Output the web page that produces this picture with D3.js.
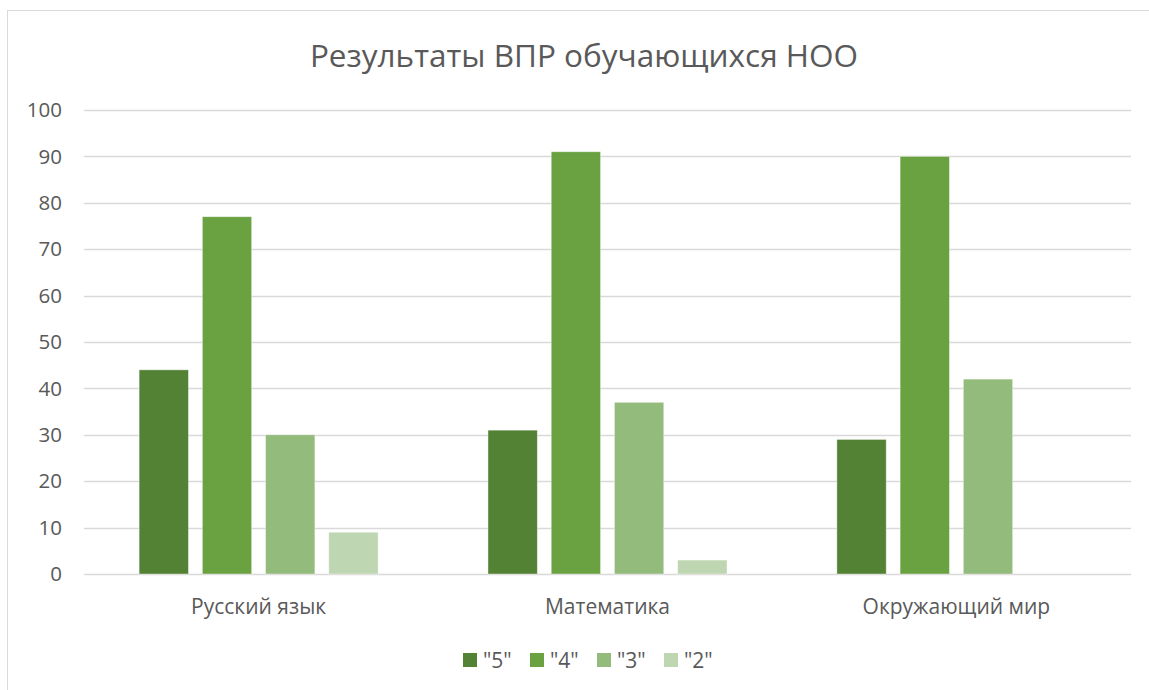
<!DOCTYPE html>
<html>
<head>
<meta charset="utf-8">
<script src="https://cdn.jsdelivr.net/npm/d3@7"></script>
<style>
  body { margin: 0; background: #fff; }
  text { font-family: "Open Sans", "Noto Sans", sans-serif; fill: #595959; }
</style>
</head>
<body>
<svg id="chart" width="1149" height="690"></svg>
<script>
// data
var subjects = ["Русский язык", "Математика", "Окружающий мир"];
var grades = ["\"5\"", "\"4\"", "\"3\"", "\"2\""];
var grade5 = [44, 31, 29];
var grade4 = [77, 91, 90];
var grade3 = [30, 37, 42];
var grade2 = [9, 3, 0];
var yTicks = [0, 10, 20, 30, 40, 50, 60, 70, 80, 90, 100];
var colors = ["#548235", "#6aa242", "#93bb7b", "#bed6b1"];

var series = [grade5, grade4, grade3, grade2];

var svg = d3.select("#chart");

// outer frame
svg.append("rect")
    .attr("x", 7.5).attr("y", 10.5)
    .attr("width", 1160).attr("height", 700)
    .attr("fill", "#fff")
    .attr("stroke", "#d9d9d9");

var plotLeft = 84, plotRight = 1131, plotTop = 110, plotBottom = 574;

var x = d3.scaleBand().domain(subjects).range([plotLeft, plotRight]).paddingInner(0.315).paddingOuter(0.158);
var xs = d3.scaleBand().domain(d3.range(grades.length)).range([0, x.bandwidth()]).paddingInner(0.22);
var y = d3.scaleLinear().domain([0, 100]).range([plotBottom, plotTop]);

// gridlines
svg.append("g").selectAll("line")
    .data(yTicks)
    .enter().append("line")
      .attr("x1", plotLeft).attr("x2", plotRight)
      .attr("y1", function(d) { return Math.round(y(d)) + 0.5; })
      .attr("y2", function(d) { return Math.round(y(d)) + 0.5; })
      .attr("stroke", "#d9d9d9")
      .attr("stroke-width", 1.3);

// y labels
svg.append("g").selectAll("text")
    .data(yTicks)
    .enter().append("text")
      .attr("x", 62)
      .attr("y", function(d) { return y(d); })
      .attr("dy", "0.35em")
      .attr("text-anchor", "end")
      .attr("font-size", 20.5)
      .text(function(d) { return d; });

// bars
var groups = svg.append("g").selectAll("g")
    .data(subjects)
    .enter().append("g")
      .attr("transform", function(d) { return "translate(" + x(d) + ",0)"; });

groups.selectAll("rect")
    .data(function(d, i) { return series.map(function(s, k) { return { k: k, v: s[i] }; }); })
    .enter().filter(function(d) { return d.v > 0; })
    .append("rect")
      .attr("x", function(d) { return xs(d.k); })
      .attr("width", xs.bandwidth())
      .attr("y", function(d) { return y(d.v); })
      .attr("height", function(d) { return y(0) - y(d.v); })
      .attr("fill", function(d) { return colors[d.k]; })
      .attr("stroke", "#fff")
      .attr("stroke-opacity", 0.5)
      .attr("stroke-width", 0.75);

// x labels
svg.append("g").selectAll("text")
    .data(subjects)
    .enter().append("text")
      .attr("x", function(d) { return x(d) + x.bandwidth() / 2; })
      .attr("y", 614)
      .attr("text-anchor", "middle")
      .attr("font-size", 21)
      .text(function(d) { return d; });

// title
svg.append("text")
    .attr("x", 584)
    .attr("y", 67)
    .attr("text-anchor", "middle")
    .attr("font-size", 31.5)
    .text("Результаты ВПР обучающихся НОО");

// legend
var legendX = [463, 530, 597, 664];
var legend = svg.append("g").selectAll("g")
    .data(grades)
    .enter().append("g")
      .attr("transform", function(d, i) { return "translate(" + legendX[i] + ",653)"; });
legend.append("rect")
    .attr("width", 14).attr("height", 14)
    .attr("fill", function(d, i) { return colors[i]; });
legend.append("text")
    .attr("x", 20).attr("y", 14.5)
    .attr("font-size", 21)
    .text(function(d) { return d; });
</script>
</body>
</html>
